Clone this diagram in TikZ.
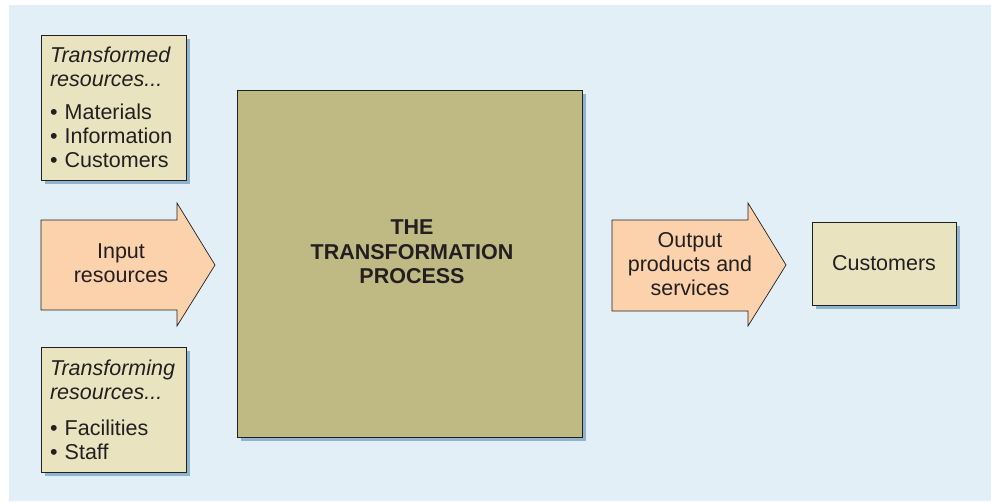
\documentclass[tikz,border=0pt]{standalone}
\usepackage{fontspec}
\setmainfont{Liberation Sans}
\usetikzlibrary{shadows, positioning}

\definecolor{bgblue}{HTML}{E3EFF7}
\definecolor{shadowblue}{HTML}{8FB4CE}
\definecolor{creamfill}{HTML}{E9E3C0}
\definecolor{olivefill}{HTML}{BFBA84}
\definecolor{peachfill}{HTML}{FCD2AC}
\definecolor{inkgrey}{HTML}{231F20}

\tikzset{
    boxshadow/.style={drop shadow={shadow xshift=3.5pt, shadow yshift=-3.5pt, fill=shadowblue, opacity=1}},
    resbox/.style={draw=inkgrey, line width=0.8pt, fill=creamfill, boxshadow,
        text width=127pt, inner xsep=9pt, align=left, minimum width=145pt},
    mainbox/.style={draw=inkgrey, line width=0.8pt, fill=olivefill, boxshadow},
    flowarrow/.style={draw=inkgrey, line width=0.7pt, fill=peachfill, line join=miter}
}

\begin{document}
\begin{tikzpicture}[x=1pt, y=-1pt, font=\fontsize{21.5}{24}\selectfont, text=inkgrey]
    \useasboundingbox (0,0) rectangle (991,501);
    \fill[bgblue] (9,5) rectangle (991,501);

    % Resource boxes
    \node[resbox, minimum height=145pt] (transformed) at (113.5,107.5)
        {{\itshape Transformed}\\{\itshape resources...}\\[9pt]
         \textbullet\ Materials\\\textbullet\ Information\\\textbullet\ Customers};
    \node[resbox, minimum height=125pt] (transforming) at (113.5,409.5)
        {{\itshape Transforming}\\{\itshape resources...}\\[12pt]
         \textbullet\ Facilities\\\textbullet\ Staff};

    % Input arrow
    \draw[flowarrow] (41,220) -- (177,220) -- (177,203) -- (215,265)
        -- (177,326) -- (177,310) -- (41,310) -- cycle;
    \node[align=center] (input) at (121,263) {Input\\resources};

    % Transformation process
    \node[mainbox, minimum width=345pt, minimum height=347pt] (process) at (409.5,263.5) {};
    \node[align=center, font=\fontsize{21.5}{24.5}\selectfont\bfseries] (proctext) at (412,252)
        {THE\\TRANSFORMATION\\PROCESS};

    % Output arrow
    \draw[flowarrow] (612,220) -- (748,220) -- (748,203) -- (786,265)
        -- (748,326) -- (748,311) -- (612,311) -- cycle;
    \node[align=center] (output) at (690,264) {Output\\products and\\services};

    % Customers
    \node[mainbox, fill=creamfill, minimum width=144pt, minimum height=83pt] (customers) at (884,263.5) {Customers};
\end{tikzpicture}
\end{document}
